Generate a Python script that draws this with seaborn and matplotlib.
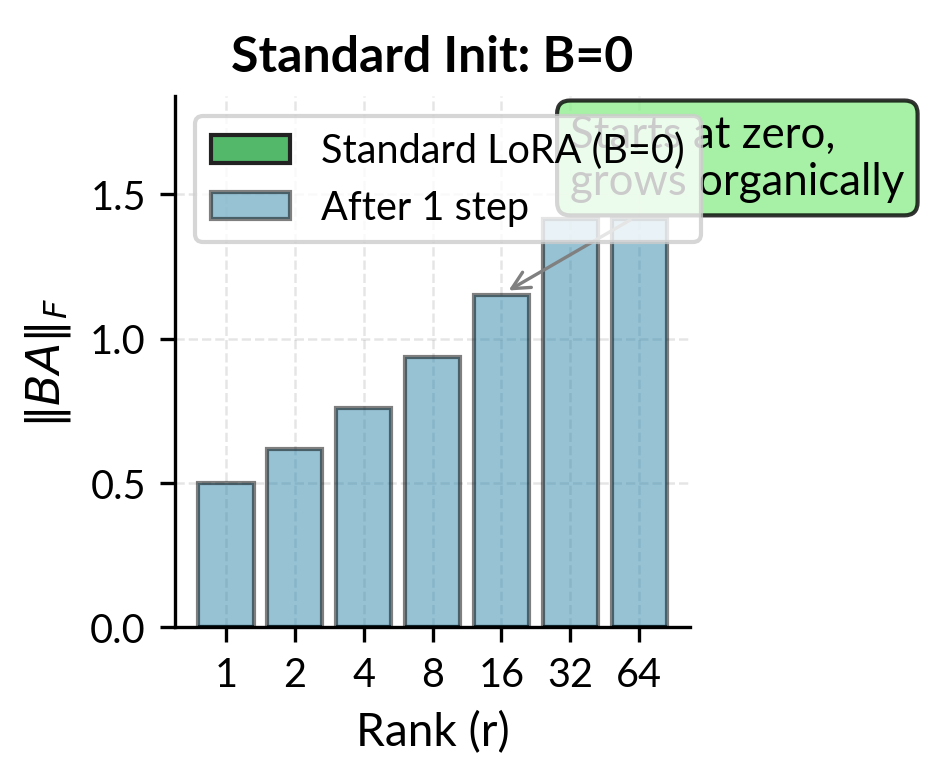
import matplotlib
matplotlib.use("Agg")
import matplotlib.pyplot as plt
import seaborn as sns
import pandas as pd
import numpy as np

ranks = ["1", "2", "4", "8", "16", "32", "64"]
standard_vals = [0, 0, 0, 0, 0, 0, 0]
after_vals = [0.50, 0.617, 0.759, 0.937, 1.152, 1.415, 1.415]

sns.set_theme(style="ticks")
plt.rcParams['font.family'] = ['Lato', 'DejaVu Sans']
plt.rcParams['mathtext.fontset'] = 'dejavusans'
for k in ['text.color', 'axes.labelcolor', 'xtick.color', 'ytick.color', 'axes.edgecolor']:
    plt.rcParams[k] = 'black'

fig = plt.figure(figsize=(3.14, 2.613), dpi=300)
ax = fig.add_axes([0.1858, 0.199, 0.7325 - 0.1858, 0.876 - 0.199])

df_std = pd.DataFrame({"rank": ranks, "val": standard_vals})
df_aft = pd.DataFrame({"rank": ranks, "val": after_vals})

sns.barplot(data=df_std, x="rank", y="val", color="#53b86a", saturation=1,
            edgecolor="#222222", linewidth=1.0, width=0.8, ax=ax,
            label="Standard LoRA (B=0)")
sns.barplot(data=df_aft, x="rank", y="val", color="#2E86AB", alpha=0.5, saturation=1,
            edgecolor="black", linewidth=1.0, width=0.8, ax=ax,
            label="After 1 step")

ax.set_ylim(0, max(after_vals) * 1.3)
ax.set_xlim(-0.74, 6.74)
ax.grid(True, linestyle="--", color="gray", alpha=0.2, linewidth=0.6)
ax.set_axisbelow(True)
sns.despine(ax=ax)

ax.set_title("Standard Init: B=0", fontsize=12, fontweight="bold")
ax.set_xlabel("Rank (r)", fontsize=11)
ax.set_ylabel(r"$\|BA\|_F$", fontsize=11)
ax.tick_params(labelsize=9.5, length=3.5, width=0.8)
for s in ax.spines.values():
    s.set_linewidth(0.8)

ax.annotate("Starts at zero,\ngrows organically", xy=(4, after_vals[4]),
            xytext=(5, 1.5), fontsize=10.5,
            bbox=dict(boxstyle="round,pad=0.3", facecolor="lightgreen", alpha=0.8,
                      edgecolor="black", linewidth=1.0),
            arrowprops=dict(arrowstyle="->", color="gray", lw=0.8))

leg = ax.legend(loc="upper left", fontsize=9.5, framealpha=0.8)
leg.set_zorder(10)

fig.savefig("out.png", dpi=300)
